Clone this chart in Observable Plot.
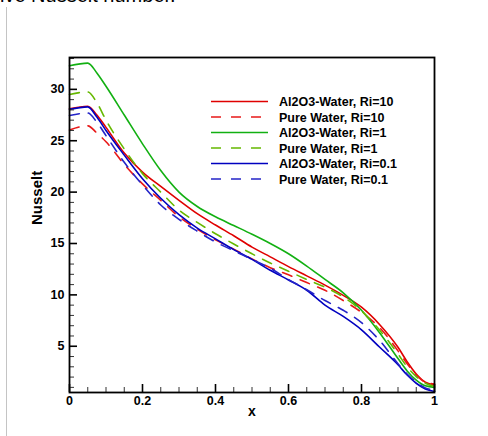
<!DOCTYPE html>
<html><head><meta charset="utf-8">
<script src="https://cdn.jsdelivr.net/npm/d3@7"></script>
<script src="https://cdn.jsdelivr.net/npm/@observablehq/plot@0.6"></script>
<style>
html,body{margin:0;padding:0;background:#fff;}
#wrap{position:relative;width:488px;height:436px;overflow:hidden;}
#top{position:absolute;left:0;top:-16px;font:20px "Liberation Sans",Arial,sans-serif;white-space:nowrap;color:#000;}
#bar{position:absolute;left:6px;top:7px;width:1px;height:429px;background:#c4c4c4;}
#chart{position:absolute;left:0;top:0;}
</style></head><body>
<div id="wrap"><div id="top">ive Nusselt number.</div><div id="bar"></div><div id="chart"></div></div>
<script>
// ---- data ----
const xs = [0, 0.05, 0.075, 0.1, 0.15, 0.2, 0.25, 0.3, 0.35, 0.4, 0.45, 0.5, 0.55, 0.6, 0.65, 0.7, 0.75, 0.8, 0.85, 0.9, 0.925, 0.95, 0.975, 1.0];
const alRi10   = [28.1, 28.35, 27.5, 26.3, 23.8, 21.95, 20.55, 19.2, 17.9, 16.8, 15.75, 14.65, 13.7, 12.75, 11.85, 10.95, 9.95, 8.8, 7.1, 4.9, 3.5, 2.3, 1.5, 1.25];
const pureRi10 = [26.05, 26.45, 25.75, 24.9, 22.7, 20.8, 19.2, 17.6, 16.4, 15.35, 14.45, 13.5, 12.65, 11.95, 11.2, 10.45, 9.45, 8.3, 6.8, 4.55, 3.3, 2.2, 1.5, 1.35];
const alRi1    = [32.3, 32.55, 31.6, 30.3, 27.5, 24.7, 22.1, 20.0, 18.6, 17.6, 16.75, 15.9, 15.0, 14.0, 12.8, 11.5, 10.2, 8.5, 6.3, 3.8, 2.6, 1.7, 1.15, 1.0];
const pureRi1  = [29.5, 29.75, 28.7, 27.0, 24.2, 21.8, 20.0, 18.25, 17.05, 15.95, 14.95, 14.0, 13.1, 12.3, 11.5, 10.75, 9.8, 8.45, 6.55, 4.25, 3.0, 2.05, 1.4, 1.1];
const alRi01   = [28.05, 28.3, 27.3, 26.0, 23.6, 21.3, 19.4, 17.8, 16.5, 15.45, 14.4, 13.45, 12.4, 11.45, 10.45, 9.0, 7.9, 6.6, 4.9, 3.2, 2.2, 1.4, 0.85, 0.6];
const pureRi01 = [27.45, 27.7, 26.8, 25.5, 22.9, 20.7, 18.75, 17.35, 16.2, 15.15, 14.3, 13.45, 12.6, 11.5, 10.5, 9.45, 8.5, 7.3, 5.55, 3.3, 2.3, 1.5, 0.95, 0.75];

const seriesNames = ["Al2O3-Water, Ri=10", "Pure Water, Ri=10", "Al2O3-Water, Ri=1", "Pure Water, Ri=1", "Al2O3-Water, Ri=0.1", "Pure Water, Ri=0.1"];
const seriesValues = [alRi10, pureRi10, alRi1, pureRi1, alRi01, pureRi01];
const seriesColors = ["#e00000", "#e81818", "#12b012", "#66b800", "#0000c0", "#2424c8"];
const seriesDashed = [false, true, false, true, false, true];

const xMajorTicks = [0, 0.2, 0.4, 0.6, 0.8, 1];
const xTickLabels = ["0", "0.2", "0.4", "0.6", "0.8", "1"];
const xMinorTicks = [0.05, 0.1, 0.15, 0.25, 0.3, 0.35, 0.45, 0.5, 0.55, 0.65, 0.7, 0.75, 0.85, 0.9, 0.95];
const yMajorTicks = [5, 10, 15, 20, 25, 30];
const yTickLabels = ["5", "10", "15", "20", "25", "30"];
const yMinorTicks = [1, 2, 3, 4, 6, 7, 8, 9, 11, 12, 13, 14, 16, 17, 18, 19, 21, 22, 23, 24, 26, 27, 28, 29, 31, 32, 33];

// ---- build ----
const tables = seriesValues.map((ys, s) => ys.map((y, i) => ({x: xs[i], y, series: seriesNames[s]})));

const lineMarks = tables.map((t, s) => Plot.line(t, {
  x: "x", y: "y", stroke: seriesColors[s], strokeWidth: 1.6,
  strokeDasharray: seriesDashed[s] ? "10,9" : null, curve: "monotone-x"
}));

const chart = Plot.plot({
  width: 488, height: 436,
  marginLeft: 69, marginRight: 54, marginTop: 57, marginBottom: 44,
  x: {domain: [0, 1]},
  y: {domain: [0.5, 33.1]},
  style: {fontFamily: '"Liberation Sans", Arial, sans-serif', fontWeight: "bold", fontSize: "12.5px", background: "transparent", color: "#000"},
  marks: [
    ...lineMarks,
    Plot.axisX(xMinorTicks, {tickSize: -5, fill: "none", stroke: "#333", strokeWidth: 1, label: null}),
    Plot.axisX(xMajorTicks, {tickSize: -8, fill: "none", stroke: "#000", strokeWidth: 1.6, label: null}),
    Plot.axisX(xMajorTicks, {tickSize: 0, tickPadding: 4, label: null, tickFormat: (d, i) => xTickLabels[i]}),
    Plot.axisY(yMinorTicks, {tickSize: -5, fill: "none", stroke: "#333", strokeWidth: 1, label: null}),
    Plot.axisY(yMajorTicks, {tickSize: -8, fill: "none", stroke: "#000", strokeWidth: 1.6, label: null}),
    Plot.axisY(yMajorTicks, {tickSize: 0, tickPadding: 5, label: null, tickFormat: (d, i) => yTickLabels[i]}),
    Plot.frame({stroke: "#000", strokeWidth: 1.8}),
    Plot.text(["Nusselt"], {frameAnchor: "left", dx: -32.5, rotate: -90, fontSize: 15, fontWeight: "bold", text: d => d}),
    Plot.text(["x"], {frameAnchor: "bottom", dy: 23, fontSize: 14, fontWeight: "bold", text: d => d})
  ]
});

// ---- legend (inside the frame, top right) ----
const legendLineX1 = 211, legendLineX2 = 268, legendTextX = 279, legendTop = 101.5, legendStep = 15.5;
const lg = d3.select(chart).append("g").attr("class", "legend").attr("text-anchor", "start");
seriesNames.forEach((name, i) => {
  const y = legendTop + i * legendStep;
  lg.append("line").attr("x1", legendLineX1).attr("x2", legendLineX2).attr("y1", y).attr("y2", y)
    .attr("stroke", seriesColors[i]).attr("stroke-width", 1.6)
    .attr("stroke-dasharray", seriesDashed[i] ? "10,10" : null);
  lg.append("text").attr("x", legendTextX).attr("y", y + 4.5).attr("text-anchor", "start")
    .attr("font-size", "12.5px").attr("font-weight", "bold").attr("fill", "#000").text(name);
});

document.getElementById("chart").appendChild(chart);
</script>
</body></html>
